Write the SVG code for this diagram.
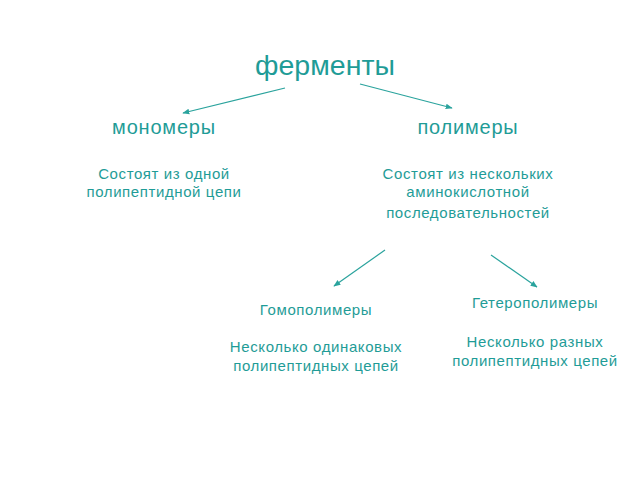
<svg xmlns="http://www.w3.org/2000/svg" width="640" height="480" viewBox="0 0 640 480">
<style>
text{font-family:"Liberation Sans",Arial,sans-serif;fill:#1f9c97;text-anchor:middle}
.t{font-size:28.5px}
.h{font-size:20px;letter-spacing:0.8px}
.s{font-size:15px;letter-spacing:0.6px}
.c line{stroke:#2aa39d;stroke-width:1.2;marker-end:url(#a)}
</style>
<defs>
<marker id="a" viewBox="0 0 10 10" refX="9" refY="5" markerWidth="7" markerHeight="7" orient="auto" markerUnits="userSpaceOnUse">
<path d="M0,1 L10,5 L0,9 z" fill="#2aa39d"/>
</marker>
</defs>
<rect width="640" height="480" fill="#fff"/>
<g class="c">
<line x1="285" y1="88" x2="183" y2="113"/>
<line x1="360" y1="84" x2="452" y2="108"/>
<line x1="385" y1="250" x2="334" y2="286"/>
<line x1="491" y1="255" x2="537" y2="287"/>
</g>
<g id="fermenty"><text class="t" x="325" y="75">ферменты</text></g>
<g id="monomery"><text class="h" x="164" y="134">мономеры</text>
<text class="s" x="164" y="179">Состоят из одной</text>
<text class="s" x="164" y="197">полипептидной цепи</text></g>
<g id="polimery"><text class="h" x="468" y="134">полимеры</text>
<text class="s" x="468" y="179">Состоят из нескольких</text>
<text class="s" x="468" y="197">аминокислотной</text>
<text class="s" x="468" y="218">последовательностей</text></g>
<g id="gomo"><text class="s" x="316" y="315">Гомополимеры</text>
<text class="s" x="316" y="352">Несколько одинаковых</text>
<text class="s" x="316" y="371">полипептидных цепей</text></g>
<g id="getero"><text class="s" x="535" y="308">Гетерополимеры</text>
<text class="s" x="535" y="347">Несколько разных</text>
<text class="s" x="535" y="366">полипептидных цепей</text></g>
</svg>
